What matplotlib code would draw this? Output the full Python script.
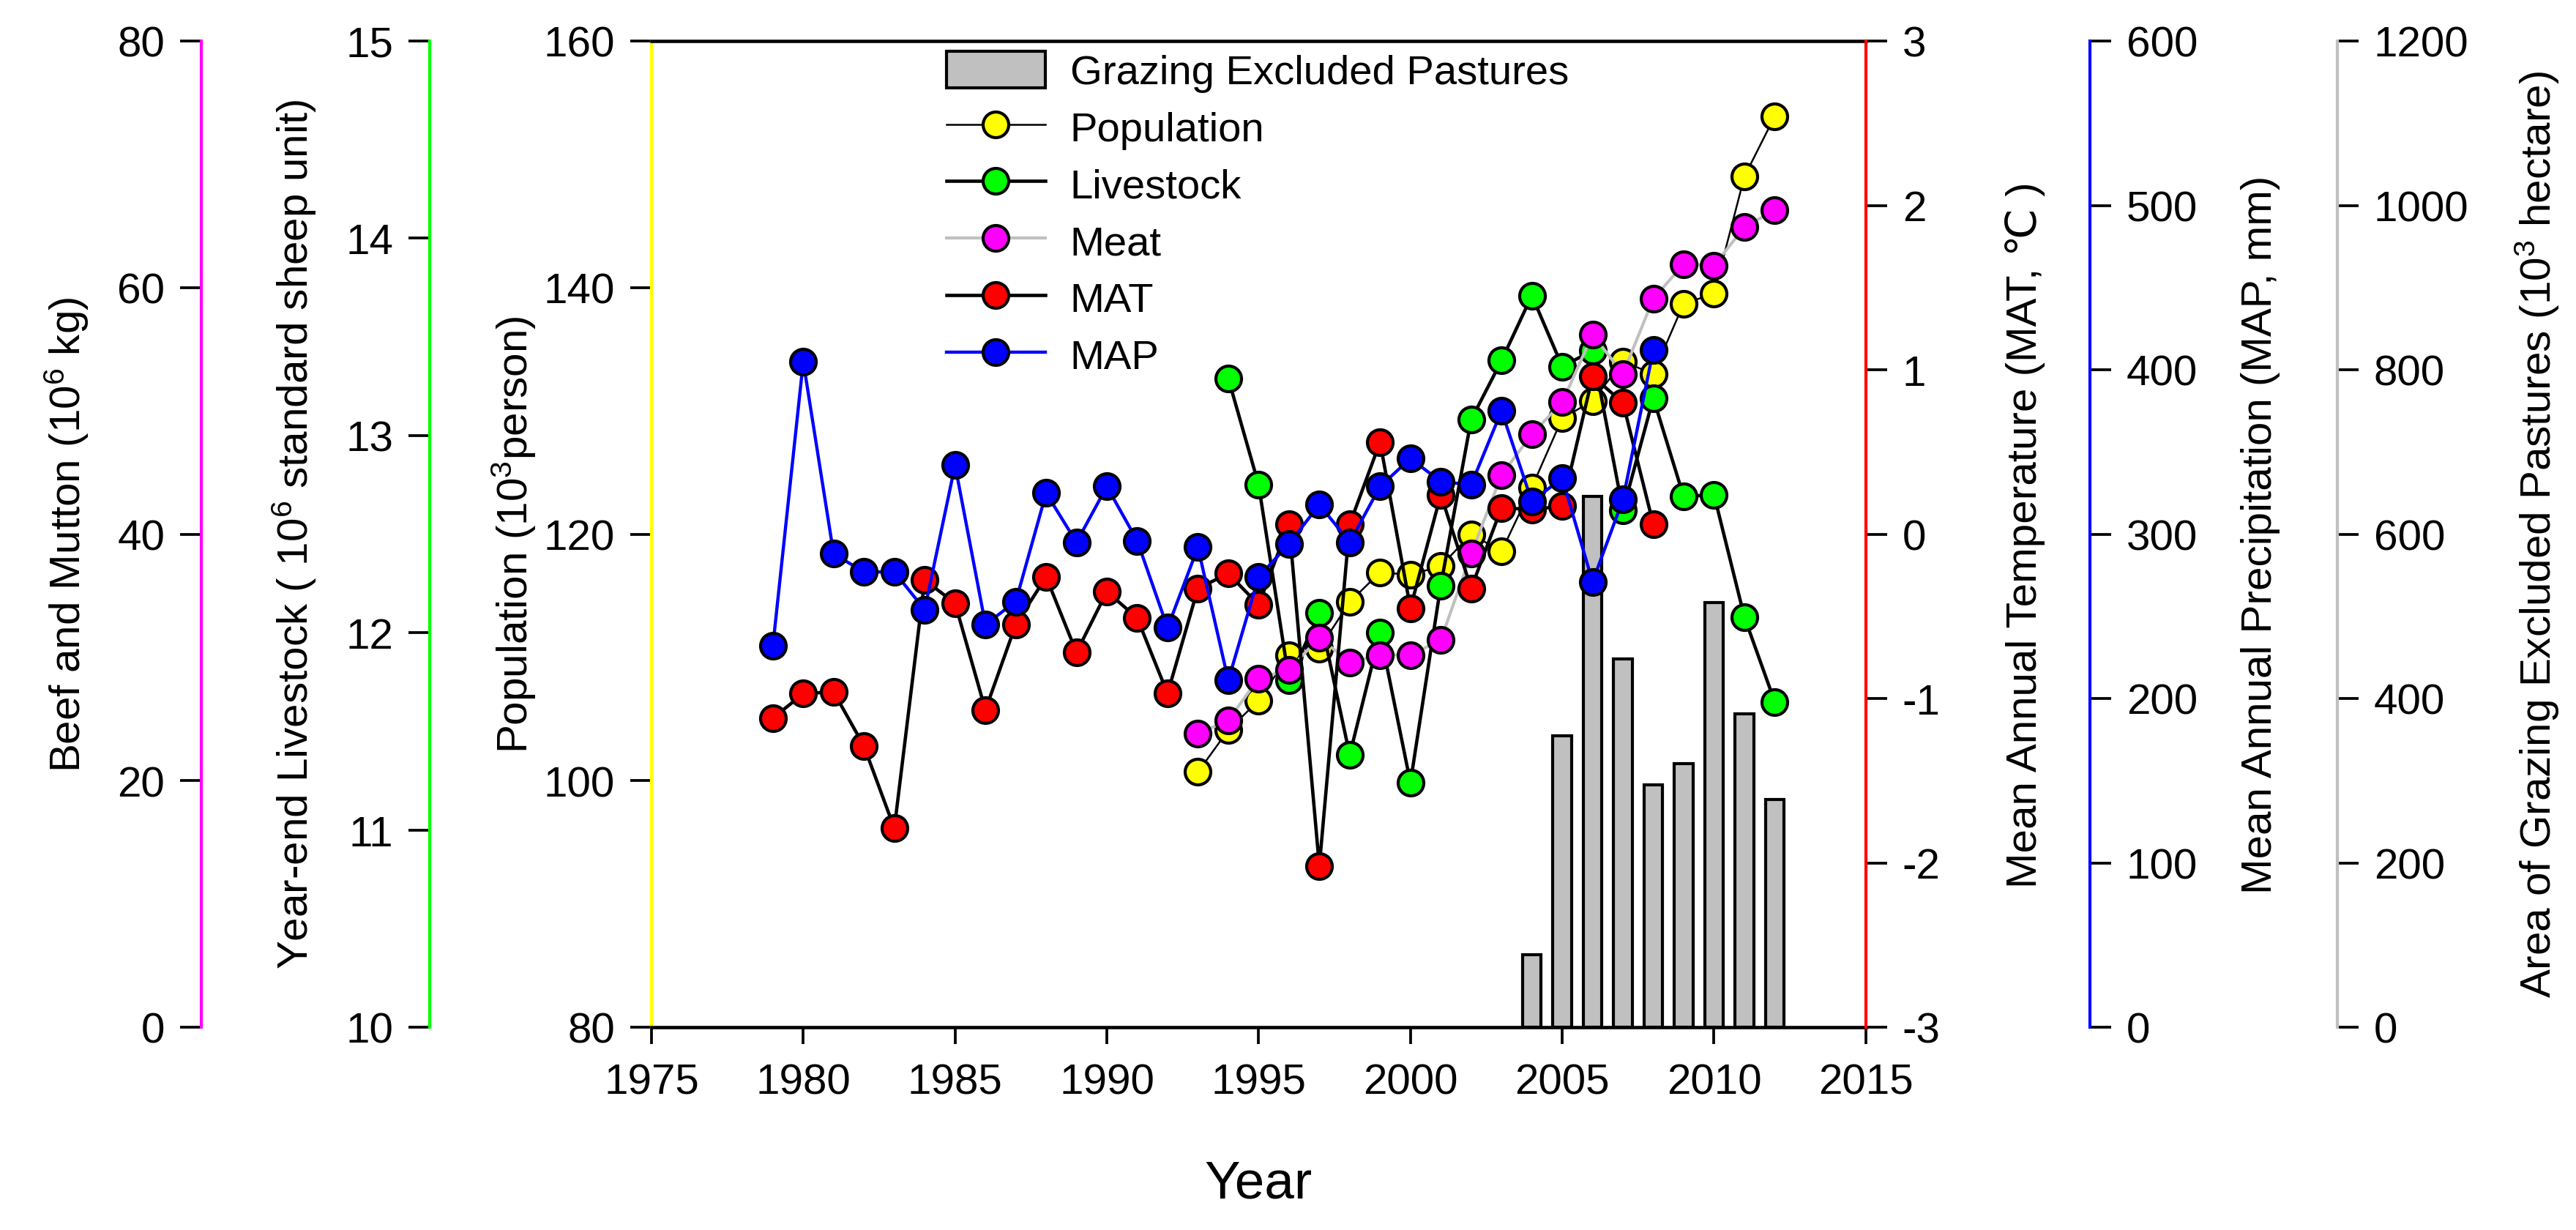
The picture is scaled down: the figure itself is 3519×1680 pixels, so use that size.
import numpy as np
import matplotlib
matplotlib.use("Agg")
import matplotlib.pyplot as plt

plt.rcParams["font.family"] = ["Liberation Sans", "DejaVu Sans"]
plt.rcParams["mathtext.fontset"] = "custom"
plt.rcParams["mathtext.rm"] = "Liberation Sans"
plt.rcParams["mathtext.default"] = "regular"
plt.rcParams["axes.unicode_minus"] = False

# data
years_map = list(range(1979, 2009))
map_mm = [232, 405, 288, 277, 277, 254, 342, 245, 259, 325, 295, 329, 296, 243, 292,
          211, 274, 294, 318, 295, 329, 346, 332, 330, 375, 320, 334, 271, 321, 412]

years_mat = list(range(1979, 2009))
mat_c = [-1.12, -0.97, -0.96, -1.29, -1.79, -0.28, -0.42, -1.07, -0.55, -0.26, -0.72,
         -0.35, -0.51, -0.97, -0.33, -0.24, -0.43, 0.06, -2.02, 0.06, 0.56, -0.45,
         0.24, -0.33, 0.16, 0.15, 0.17, 0.96, 0.80, 0.06]

years_pop = list(range(1993, 2013))
population = [100.7, 104.1, 106.5, 110.2, 110.7, 114.5, 116.9, 116.7, 117.4, 120.0,
              118.6, 123.8, 129.4, 130.8, 134.0, 133.0, 138.7, 139.5, 149.0, 153.9]

years_ls = list(range(1994, 2013))
livestock = [13.29, 12.75, 11.76, 12.10, 11.38, 12.00, 11.24, 12.24, 13.08, 13.38,
             13.71, 13.35, 13.43, 12.62, 13.19, 12.69, 12.70, 12.08, 11.65]

years_meat = list(range(1993, 2013))
meat = [23.8, 24.9, 28.3, 29.0, 31.6, 29.6, 30.2, 30.2, 31.4, 38.4,
        44.8, 48.1, 50.7, 56.2, 53.0, 59.1, 61.9, 61.8, 64.9, 66.3]

years_area = list(range(2004, 2013))
area = [88, 355, 646, 448, 295, 321, 517, 381, 277]

x_ticks = [1975, 1980, 1985, 1990, 1995, 2000, 2005, 2010, 2015]

fig = plt.figure(figsize=(11.73, 5.603), dpi=300)
ax = fig.add_axes([0.2529, 0.1648, 0.4714, 0.8013])
ax_area = ax.twinx()
ax_ls = ax.twinx()
ax_meat = ax.twinx()
ax_mat = ax.twinx()
ax_map = ax.twinx()

order = [ax_area, ax, ax_ls, ax_meat, ax_mat, ax_map]
for i, a in enumerate(order):
    a.set_zorder(i + 1)
    a.patch.set_visible(False)
    for s in a.spines.values():
        s.set_visible(False)
        s.set_linewidth(1.0)
    a.tick_params(axis="y", direction="out", length=7, width=0.9, labelsize=14,
                  pad=5, colors="black")

ms = 8.4
mew = 1.0

bars = ax_area.bar(years_area, area, width=0.62, color="#c0c0c0", edgecolor="black",
                   linewidth=1.0, label="Grazing Excluded Pastures")
l_pop, = ax.plot(years_pop, population, color="black", lw=0.6, marker="o", ms=ms,
                 mfc="#ffff00", mec="black", mew=mew, label="Population")
l_ls, = ax_ls.plot(years_ls, livestock, color="black", lw=1.1, marker="o", ms=ms,
                   mfc="#00ff00", mec="black", mew=mew, label="Livestock")
l_meat, = ax_meat.plot(years_meat, meat, color="#c0c0c0", lw=1.0, marker="o", ms=ms,
                       mfc="#ff00ff", mec="black", mew=mew, label="Meat")
l_mat, = ax_mat.plot(years_mat, mat_c, color="black", lw=1.1, marker="o", ms=ms,
                     mfc="#ff0000", mec="black", mew=mew, label="MAT")
l_map, = ax_map.plot(years_map, map_mm, color="#0000ff", lw=1.05, marker="o", ms=ms,
                     mfc="#0000ff", mec="black", mew=mew, label="MAP")

# main axis: population + year
ax.set_xlim(1975, 2015)
ax.set_xticks(x_ticks)
ax.tick_params(axis="x", direction="out", length=5.6, width=0.9, labelsize=14, pad=6)
ax.set_ylim(80, 160)
ax.set_yticks([80, 100, 120, 140, 160])
ax.spines["left"].set_visible(True)
ax.spines["left"].set_color("#ffff00")
ax.spines["bottom"].set_visible(True)
ax.spines["top"].set_visible(True)
ax.spines["top"].set_linewidth(1.1)
ax.spines["bottom"].set_linewidth(1.1)
ax.set_xlabel("Year", fontsize=17.5)
ax.xaxis.set_label_coords(0.5, -0.134)
ax.set_ylabel("Population (10$^{3}$person)", fontsize=14)
ax.yaxis.set_label_coords(-0.0934, 0.5)

# livestock (left, green)
ax_ls.set_ylim(10, 15)
ax_ls.set_yticks([10, 11, 12, 13, 14, 15])
ax_ls.yaxis.set_ticks_position("left")
ax_ls.yaxis.set_label_position("left")
ax_ls.spines["left"].set_visible(True)
ax_ls.spines["left"].set_position(("axes", -0.1826))
ax_ls.spines["left"].set_color("#00ff00")
ax_ls.set_ylabel("Year-end Livestock ( 10$^{6}$ standard sheep unit)", fontsize=14)
ax_ls.yaxis.set_label_coords(-0.274, 0.5)

# beef and mutton (left, magenta)
ax_meat.set_ylim(0, 80)
ax_meat.set_yticks([0, 20, 40, 60, 80])
ax_meat.yaxis.set_ticks_position("left")
ax_meat.yaxis.set_label_position("left")
ax_meat.spines["left"].set_visible(True)
ax_meat.spines["left"].set_position(("axes", -0.3707))
ax_meat.spines["left"].set_color("#ff00ff")
ax_meat.set_ylabel("Beef and Mutton (10$^{6}$ kg)", fontsize=14)
ax_meat.yaxis.set_label_coords(-0.462, 0.5)

# MAT (right, red)
ax_mat.set_ylim(-3, 3)
ax_mat.set_yticks([-3, -2, -1, 0, 1, 2, 3])
ax_mat.spines["right"].set_visible(True)
ax_mat.spines["right"].set_color("#ff0000")
ax_mat.set_ylabel("Mean Annual Temperature (MAT, \u2103 )", fontsize=14)
ax_mat.yaxis.set_label_coords(1.1145, 0.5)

# MAP (right, blue)
ax_map.set_ylim(0, 600)
ax_map.set_yticks([0, 100, 200, 300, 400, 500, 600])
ax_map.spines["right"].set_visible(True)
ax_map.spines["right"].set_position(("axes", 1.1845))
ax_map.spines["right"].set_color("#0000ff")
ax_map.set_ylabel("Mean Annual Precipitation (MAP, mm)", fontsize=14)
ax_map.yaxis.set_label_coords(1.309, 0.5)

# grazing excluded area (right, grey)
ax_area.set_ylim(0, 1200)
ax_area.set_yticks([0, 200, 400, 600, 800, 1000, 1200])
ax_area.spines["right"].set_visible(True)
ax_area.spines["right"].set_position(("axes", 1.3882))
ax_area.spines["right"].set_color("#c0c0c0")
ax_area.set_ylabel("Area of Grazing Excluded Pastures (10$^{3}$ hectare)", fontsize=14)
ax_area.yaxis.set_label_coords(1.533, 0.5)

handles = [bars, l_pop, l_ls, l_meat, l_mat, l_map]
labels = [h.get_label() for h in handles]
ax_map.legend(handles, labels, loc="upper left", bbox_to_anchor=(0.2429, 0.99),
              frameon=False, fontsize=13.5, borderpad=0, borderaxespad=0,
              handlelength=2.4, handleheight=1.0, handletextpad=0.6,
              labelspacing=0.38)

fig.savefig("out.png", dpi=300)
